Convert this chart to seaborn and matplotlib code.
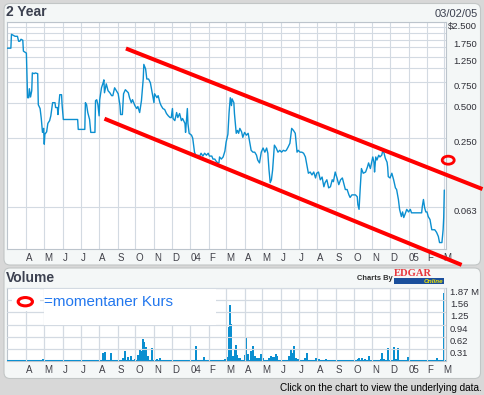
import matplotlib
matplotlib.use("Agg")
import matplotlib.pyplot as plt
import matplotlib.ticker as mticker
import matplotlib.dates as mdates
import matplotlib.transforms as mtransforms
from matplotlib.lines import Line2D
from matplotlib.patches import FancyBboxPatch, Ellipse, Rectangle
import seaborn as sns
import pandas as pd

# daily closing price (USD)
price_dates = [
    "2003-02-27", "2003-03-06", "2003-03-07", "2003-03-13", "2003-03-17", "2003-03-19", "2003-03-21",
    "2003-03-23", "2003-03-26", "2003-03-27", "2003-04-01", "2003-04-02", "2003-04-03", "2003-04-05",
    "2003-04-06", "2003-04-08", "2003-04-10", "2003-04-11", "2003-04-14", "2003-04-16", "2003-04-20",
    "2003-04-21", "2003-04-24", "2003-04-26", "2003-04-28", "2003-04-30", "2003-05-01", "2003-05-02",
    "2003-05-05", "2003-05-07", "2003-05-10", "2003-05-12", "2003-05-15", "2003-05-19", "2003-05-20",
    "2003-05-23", "2003-05-24", "2003-05-25", "2003-05-27", "2003-05-30", "2003-05-31", "2003-06-02",
    "2003-06-26", "2003-06-27", "2003-07-08", "2003-07-09", "2003-07-11", "2003-07-13", "2003-07-16",
    "2003-07-18", "2003-07-25", "2003-07-26", "2003-07-28", "2003-07-30", "2003-08-01", "2003-08-02",
    "2003-08-05", "2003-08-08", "2003-08-09", "2003-08-10", "2003-08-13", "2003-08-16", "2003-08-19",
    "2003-08-22", "2003-08-24", "2003-08-27", "2003-08-30", "2003-09-02", "2003-09-05", "2003-09-06",
    "2003-09-09", "2003-09-11", "2003-09-14", "2003-09-19", "2003-09-21", "2003-09-24", "2003-09-26",
    "2003-09-30", "2003-10-03", "2003-10-05", "2003-10-08", "2003-10-11", "2003-10-14", "2003-10-15",
    "2003-10-18", "2003-10-20", "2003-10-23", "2003-10-26", "2003-10-29", "2003-11-01", "2003-11-02",
    "2003-11-06", "2003-11-08", "2003-11-11", "2003-11-13", "2003-11-16", "2003-11-19", "2003-11-22",
    "2003-11-25", "2003-11-28", "2003-11-30", "2003-12-02", "2003-12-03", "2003-12-06", "2003-12-09",
    "2003-12-11", "2003-12-14", "2003-12-17", "2003-12-19", "2003-12-23", "2003-12-24", "2003-12-27",
    "2003-12-28", "2003-12-30", "2004-01-03", "2004-01-05", "2004-01-08", "2004-01-11", "2004-01-14",
    "2004-01-16", "2004-01-19", "2004-01-22", "2004-01-25", "2004-01-28", "2004-01-31", "2004-02-02",
    "2004-02-06", "2004-02-08", "2004-02-11", "2004-02-13", "2004-02-16", "2004-02-18", "2004-02-19",
    "2004-02-22", "2004-02-25", "2004-02-28", "2004-03-01", "2004-03-04", "2004-03-06", "2004-03-08",
    "2004-03-10", "2004-03-11", "2004-03-14", "2004-03-15", "2004-03-17", "2004-03-18", "2004-03-20",
    "2004-03-22", "2004-03-24", "2004-03-27", "2004-03-29", "2004-04-01", "2004-04-04", "2004-04-07",
    "2004-04-10", "2004-04-12", "2004-04-15", "2004-04-18", "2004-04-21", "2004-04-23", "2004-04-26",
    "2004-04-29", "2004-05-02", "2004-05-05", "2004-05-08", "2004-05-10", "2004-05-12", "2004-05-14",
    "2004-05-16", "2004-05-18", "2004-05-20", "2004-05-21", "2004-05-24", "2004-05-27", "2004-05-30",
    "2004-06-02", "2004-06-05", "2004-06-08", "2004-06-10", "2004-06-13", "2004-06-16", "2004-06-18",
    "2004-06-19", "2004-06-22", "2004-06-25", "2004-06-28", "2004-06-30", "2004-07-03", "2004-07-06",
    "2004-07-09", "2004-07-12", "2004-07-15", "2004-07-17", "2004-07-20", "2004-07-23", "2004-07-26",
    "2004-07-29", "2004-07-31", "2004-08-03", "2004-08-06", "2004-08-09", "2004-08-12", "2004-08-14",
    "2004-08-17", "2004-08-20", "2004-08-23", "2004-08-26", "2004-08-28", "2004-08-31", "2004-09-03",
    "2004-09-06", "2004-09-09", "2004-09-12", "2004-09-14", "2004-09-17", "2004-09-20", "2004-09-23",
    "2004-09-25", "2004-09-28", "2004-10-04", "2004-10-07", "2004-10-08", "2004-10-10", "2004-10-12",
    "2004-10-14", "2004-10-17", "2004-10-21", "2004-10-24", "2004-10-26", "2004-10-29", "2004-11-02",
    "2004-11-04", "2004-11-05", "2004-11-07", "2004-11-09", "2004-11-12", "2004-11-14", "2004-11-17",
    "2004-11-19", "2004-11-21", "2004-11-23", "2004-11-26", "2004-11-27", "2004-11-28", "2004-12-01",
    "2004-12-04", "2004-12-07", "2004-12-10", "2004-12-12", "2004-12-15", "2004-12-17", "2004-12-20",
    "2004-12-22", "2004-12-24", "2004-12-27", "2004-12-29", "2005-01-01", "2005-01-04", "2005-01-06",
    "2005-01-23", "2005-01-24", "2005-01-26", "2005-01-28", "2005-01-30", "2005-02-01", "2005-02-03",
    "2005-02-06", "2005-02-09", "2005-02-14", "2005-02-17", "2005-02-20", "2005-02-22", "2005-02-26",
    "2005-02-28", "2005-03-01", "2005-03-02",
]
price_values = [
    1.477, 1.477, 1.946, 1.870, 1.870, 1.695, 1.695,
    1.763, 1.730, 1.393, 1.339, 0.868, 0.552, 0.552,
    0.660, 0.560, 0.634, 0.903, 0.890, 0.903, 0.890,
    0.480, 0.445, 0.365, 0.277, 0.300, 0.219, 0.267,
    0.280, 0.331, 0.350, 0.385, 0.500, 0.500, 0.454,
    0.454, 0.395, 0.454, 0.586, 0.586, 0.472, 0.358,
    0.358, 0.294, 0.294, 0.500, 0.480, 0.411, 0.358,
    0.277, 0.277, 0.520, 0.530, 0.480, 0.385, 0.531,
    0.672, 0.750, 0.787, 0.609, 0.727, 0.634, 0.609,
    0.575, 0.575, 0.672, 0.634, 0.597, 0.472, 0.395,
    0.395, 0.597, 0.647, 0.609, 0.552, 0.500, 0.531,
    0.472, 0.445, 0.463, 0.411, 0.520, 0.800, 1.070,
    0.977, 0.800, 0.800, 0.742, 0.609, 0.500, 0.597,
    0.552, 0.575, 0.500, 0.472, 0.445, 0.436, 0.403,
    0.385, 0.372, 0.372, 0.445, 0.365, 0.350, 0.411,
    0.372, 0.403, 0.350, 0.365, 0.331, 0.277, 0.445,
    0.331, 0.272, 0.262, 0.247, 0.187, 0.170, 0.176,
    0.170, 0.183, 0.173, 0.183, 0.176, 0.183, 0.173,
    0.173, 0.163, 0.163, 0.157, 0.151, 0.151, 0.170,
    0.163, 0.170, 0.191, 0.228, 0.267, 0.411, 0.552,
    0.472, 0.540, 0.500, 0.403, 0.305, 0.272, 0.288,
    0.272, 0.300, 0.280, 0.251, 0.277, 0.262, 0.272,
    0.223, 0.194, 0.187, 0.187, 0.176, 0.160, 0.151,
    0.187, 0.203, 0.187, 0.203, 0.183, 0.131, 0.102,
    0.108, 0.131, 0.183, 0.215, 0.203, 0.187, 0.194,
    0.187, 0.194, 0.191, 0.194, 0.207, 0.223, 0.272,
    0.300, 0.288, 0.272, 0.187, 0.194, 0.187, 0.187,
    0.183, 0.170, 0.139, 0.123, 0.126, 0.119, 0.126,
    0.112, 0.123, 0.126, 0.108, 0.114, 0.094, 0.102,
    0.108, 0.092, 0.094, 0.108, 0.104, 0.126, 0.112,
    0.098, 0.108, 0.112, 0.102, 0.089, 0.089, 0.080,
    0.076, 0.080, 0.080, 0.077, 0.066, 0.060, 0.092,
    0.135, 0.123, 0.126, 0.139, 0.151, 0.135, 0.170,
    0.153, 0.126, 0.170, 0.160, 0.176, 0.170, 0.176,
    0.194, 0.183, 0.166, 0.153, 0.139, 0.115, 0.112,
    0.123, 0.108, 0.092, 0.089, 0.073, 0.060, 0.052,
    0.057, 0.051, 0.056, 0.060, 0.057, 0.060, 0.056,
    0.056, 0.063, 0.073, 0.062, 0.057, 0.057, 0.052,
    0.049, 0.040, 0.040, 0.038, 0.035, 0.031, 0.031,
    0.040, 0.051, 0.088,
]

# daily volume in millions of shares (only days with visible bars)
volume_dates = [
    "2003-04-24", "2003-04-29", "2003-08-08", "2003-08-11", "2003-08-16", "2003-08-21", "2003-08-28",
    "2003-09-10", "2003-09-13", "2003-09-19", "2003-09-24", "2003-09-30", "2003-10-05", "2003-10-09",
    "2003-10-11", "2003-10-14", "2003-10-16", "2003-10-19", "2003-10-22", "2003-10-28", "2003-11-02",
    "2003-11-06", "2003-11-11", "2003-11-13", "2004-01-07", "2004-01-10", "2004-01-24", "2004-02-02",
    "2004-02-11", "2004-02-28", "2004-03-02", "2004-03-05", "2004-03-07", "2004-03-10", "2004-03-12",
    "2004-03-14", "2004-03-16", "2004-03-18", "2004-03-20", "2004-03-22", "2004-03-25", "2004-03-28",
    "2004-04-01", "2004-04-04", "2004-04-06", "2004-04-12", "2004-04-15", "2004-04-18", "2004-04-21",
    "2004-04-23", "2004-04-26", "2004-04-29", "2004-05-02", "2004-05-12", "2004-05-16", "2004-05-18",
    "2004-05-21", "2004-05-23", "2004-05-26", "2004-06-03", "2004-06-11", "2004-06-14", "2004-06-18",
    "2004-06-20", "2004-06-23", "2004-06-26", "2004-06-29", "2004-07-12", "2004-07-14", "2004-07-20",
    "2004-07-30", "2004-08-04", "2004-08-15", "2004-10-08", "2004-10-10", "2004-10-15", "2004-10-20",
    "2004-10-26", "2004-11-01", "2004-11-15", "2004-11-18", "2004-11-21", "2004-11-28", "2004-12-08",
    "2004-12-11", "2004-12-15", "2004-12-21", "2004-12-31", "2005-02-18", "2005-03-01",
]
volume_millions = [
    0.03, 0.05, 0.22, 0.23, 0.02, 0.21, 0.02,
    0.08, 0.26, 0.12, 0.14, 0.05, 0.15, 0.31,
    0.25, 0.57, 0.50, 0.37, 0.14, 0.35, 0.03,
    0.05, 0.08, 0.04, 0.03, 0.39, 0.10, 0.02,
    0.02, 0.06, 0.12, 0.87, 1.44, 0.95, 0.14,
    0.12, 0.29, 0.42, 0.16, 0.09, 0.08, 0.03,
    0.16, 0.63, 0.18, 0.25, 0.39, 0.13, 0.09,
    0.09, 0.09, 0.18, 0.09, 0.08, 0.14, 0.12,
    0.12, 0.19, 0.14, 0.03, 0.03, 0.14, 0.31,
    0.22, 0.39, 0.09, 0.05, 0.08, 0.22, 0.03,
    0.09, 0.06, 0.06, 0.05, 0.09, 0.09, 0.05,
    0.14, 0.03, 0.05, 0.22, 0.05, 0.33, 0.36,
    0.05, 0.33, 0.03, 0.12, 0.09, 1.74,
]

# hand-drawn trend channel (start, end)
upper_channel_dates = ["2003-09-15", "2005-05-05"]
upper_channel_values = [1.468, 0.0898]
lower_channel_dates = ["2003-08-10", "2005-03-31"]
lower_channel_values = [0.3636, 0.0199]

month_starts = pd.date_range("2003-04-01", "2005-03-01", freq="MS")
month_labels = ["A", "M", "J", "J", "A", "S", "O", "N", "D", "04", "F", "M",
                "A", "M", "J", "J", "A", "S", "O", "N", "D", "05", "F", "M"]

price_grid = [0.0625, 0.25, 0.5, 0.75, 1.0, 1.25, 1.5, 1.75, 2.0, 2.25, 2.5]
price_labels = ["0.063", "0.250", "0.500", "0.750", "", "1.250", "", "1.750", "", "", "$2.500"]
volume_grid = [0.3117, 0.6233, 0.935, 1.2467, 1.5583, 1.87]
volume_labels = ["0.31", "0.62", "0.94", "1.25", "1.56", "1.87 M"]

BLUE = "#0b8fd0"
RED = "#ff0000"
GRID = "#d3dae2"
TEXT = "#3c4150"

sns.set_theme(style="white")
plt.rcParams["font.family"] = ["Liberation Sans", "DejaVu Sans"]

W, H = 484, 395
fig = plt.figure(figsize=(4.84, 3.95), dpi=100)
fig.patch.set_facecolor("#d8d8d8")


def frac(x0, y0, x1, y1):
    return [x0 / W, 1 - y1 / H, (x1 - x0) / W, (y1 - y0) / H]


# background panels, pixel coordinates
bg = fig.add_axes([0, 0, 1, 1], zorder=0)
bg.set_xlim(0, W)
bg.set_ylim(H, 0)
bg.axis("off")
for y0, y1 in [(3.5, 265), (268, 378.5)]:
    bg.add_patch(FancyBboxPatch((4, y0), 476.5, y1 - y0,
                                boxstyle="round,pad=0,rounding_size=6",
                                fc="#f4f7f7", ec="#c2c6c6", lw=0.8))


def style_axes(ax, grid_values):
    ax.set_facecolor("white")
    ax.set_xlim(pd.Timestamp("2003-02-27"), pd.Timestamp("2005-03-04"))
    ax.set_xticks(month_starts)
    ax.set_xticklabels(month_labels, ha="left")
    ax.tick_params(axis="x", length=0, pad=3, labelsize=7, colors="#404048")
    ax.yaxis.tick_right()
    ax.yaxis.set_minor_locator(mticker.NullLocator())
    ax.grid(False)
    for m in month_starts:
        ax.axvline(m, color=GRID, lw=0.8, zorder=0.6)
    for g in grid_values:
        ax.axhline(g, color=GRID, lw=0.8, zorder=0.6)
    for s in ax.spines.values():
        s.set_color("#bcc4cc")
        s.set_linewidth(0.8)
    ax.set_xlabel("")
    ax.set_ylabel("")


# price panel
ax = fig.add_axes(frac(6.7, 21.7, 445.5, 248.7), zorder=1)
prices = pd.DataFrame({"date": pd.to_datetime(price_dates), "price": price_values})
sns.lineplot(data=prices, x="date", y="price", ax=ax, color=BLUE, linewidth=1.0, zorder=3)
ax.set_yscale("log")
ax.set_ylim(0.02745, 2.5)
ax.set_yticks(price_grid)
ax.set_yticklabels(price_labels)
style_axes(ax, price_grid)
ax.tick_params(axis="y", length=0, pad=22.7, labelsize=6.8, colors="#303038")
for t in ax.get_yticklabels():
    t.set_ha("right")
    t.set_va("top")

for d, v in [(upper_channel_dates, upper_channel_values), (lower_channel_dates, lower_channel_values)]:
    ax.plot(pd.to_datetime(d), v, color=RED, lw=2.9, clip_on=False,
            solid_capstyle="butt", zorder=5)

# volume panel
vax = fig.add_axes(frac(6.7, 287.5, 445.5, 361.3), zorder=1)
vax.bar(pd.to_datetime(volume_dates), volume_millions, width=3.2, color=BLUE,
        edgecolor="none", linewidth=0, zorder=2)
vax.axhline(0, color=BLUE, lw=2.2, zorder=3)
vax.set_ylim(0, 1.88)
vax.set_yticks(volume_grid)
vax.set_yticklabels(volume_labels)
style_axes(vax, volume_grid)
vax.tick_params(axis="y", length=0, pad=3.3, labelsize=6.8, colors="#303038")
for t in vax.get_yticklabels():
    t.set_va("top")

# overlay: titles, legend, logo, notes
ov = fig.add_axes([0, 0, 1, 1], zorder=3)
ov.set_xlim(0, W)
ov.set_ylim(H, 0)
ov.axis("off")

# volume grid repeated on the overlay, in the volume axes' own coordinates
vx = mtransforms.blended_transform_factory(vax.transData, vax.transAxes)
vy = mtransforms.blended_transform_factory(vax.transAxes, vax.transData)
for m in mdates.date2num(month_starts):
    ln = Line2D([m, m], [0, 1], transform=vx, color=GRID, lw=0.8, zorder=0.5)
    ov.add_line(ln)
    ln.set_clip_path(vax.patch)
for g in volume_grid:
    ln = Line2D([0, 1], [g, g], transform=vy, color=GRID, lw=0.8, zorder=0.5)
    ov.add_line(ln)
    ln.set_clip_path(vax.patch)

ov.text(5.5, 12.3, "2 Year", fontsize=10, fontweight="bold", color=TEXT, ha="left", va="center")
ov.text(477.5, 14.2, "03/02/05", fontsize=8, color=TEXT, ha="right", va="center")
ov.text(5.5, 277.5, "Volume", fontsize=10, fontweight="bold", color=TEXT, ha="left", va="center")

ov.add_patch(Ellipse((448.2, 160.2), 12, 8, fc="none", ec=RED, lw=2.0, zorder=1.1))

ov.add_patch(Rectangle((12, 289), 28, 22, fc="white", ec="none", zorder=1))
ov.add_patch(Rectangle((44, 288.5), 172, 36.5, fc="white", ec="none", zorder=1))
ov.add_patch(Ellipse((25.3, 301.7), 14.3, 8.3, fc="none", ec=RED, lw=2.2, zorder=1.1))
ov.text(44, 301.5, "=momentaner Kurs", fontsize=10.9, color="#2277ee", ha="left", va="center")

ov.text(392.5, 278, "Charts By", fontsize=5.4, fontweight="bold", color="#303030", ha="right", va="center")
ov.text(393.5, 273.5, "EDGAR", fontsize=7.6, fontweight="bold", color="#e8383d",
        family=["Liberation Serif", "DejaVu Serif"], ha="left", va="center")
ov.add_patch(Rectangle((394, 278.3), 50, 6, fc="#1a4f9c", ec="none", zorder=1))
ov.text(443, 281.4, "Online", fontsize=4.5, fontweight="bold", style="italic", color="#f2e600",
        ha="right", va="center")

ov.text(481.5, 388, "Click on the chart to view the underlying data.", fontsize=7.2,
        color="black", ha="right", va="center")

fig.savefig("out.png", dpi=100, facecolor=fig.get_facecolor())
